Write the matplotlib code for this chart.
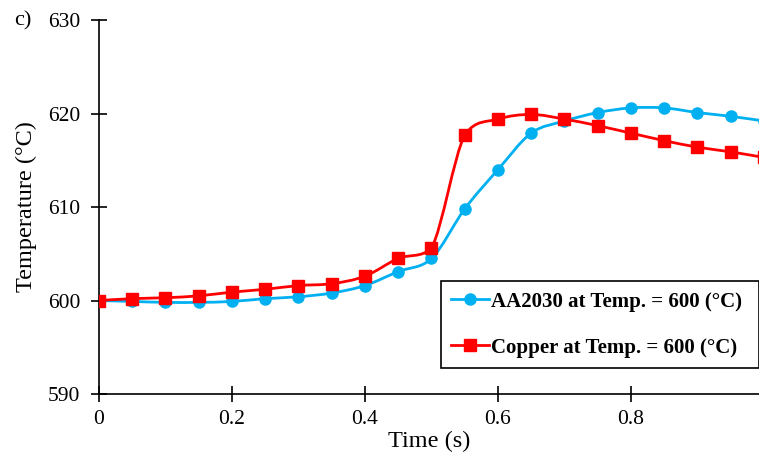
import numpy as np
import matplotlib.pyplot as plt
from matplotlib.path import Path
from matplotlib.patches import PathPatch
from matplotlib.lines import Line2D

plt.rcParams['font.family'] = ['Liberation Serif', 'DejaVu Serif']

# time (s)
t = [0.0, 0.05, 0.1, 0.15, 0.2, 0.25, 0.3, 0.35, 0.4, 0.45, 0.5,
     0.55, 0.6, 0.65, 0.7, 0.75, 0.8, 0.85, 0.9, 0.95, 1.0]
# AA2030 at 600 C
aa2030 = [600.0, 599.9, 599.8, 599.8, 599.9, 600.2, 600.4, 600.8, 601.6, 603.1, 604.5,
          609.8, 614.0, 617.9, 619.2, 620.1, 620.6, 620.6, 620.1, 619.7, 619.2]
# Copper at 600 C
copper = [600.0, 600.2, 600.3, 600.5, 600.9, 601.2, 601.6, 601.8, 602.6, 604.5, 605.6,
          617.7, 619.4, 619.9, 619.4, 618.7, 617.9, 617.1, 616.4, 615.9, 615.3]

labels = ["AA2030 at Temp. = 600 (°C)", "Copper at Temp. = 600 (°C)"]
colors = ["#00B0F0", "#FF0000"]
markers = ["o", "s"]
msizes = [8, 8.5]


def smooth_path(x, y):
    # smoothed line like Excel: Catmull-Rom -> cubic Bezier, controls kept in segment range
    p = np.column_stack([x, y]).astype(float)
    pts = np.vstack([p[0], p, p[-1]])
    verts = [p[0]]
    codes = [Path.MOVETO]
    for i in range(1, len(pts) - 2):
        p0, p1, p2, p3 = pts[i - 1], pts[i], pts[i + 1], pts[i + 2]
        c1 = p1 + (p2 - p0) / 6
        c2 = p2 - (p3 - p1) / 6
        lo, hi = min(p1[1], p2[1]), max(p1[1], p2[1])
        if hi - lo > 1.0:
            c1[1] = np.clip(c1[1], lo, hi)
            c2[1] = np.clip(c2[1], lo, hi)
        verts += [c1, c2, p2]
        codes += [Path.CURVE4] * 3
    return Path(verts, codes)


fig = plt.figure(figsize=(7.59, 4.61), dpi=100)
ax = fig.add_axes([0.1304, 0.1453, 0.8696, 0.8113])

handles = []
for ys, lab, c, m, ms in zip([aa2030, copper], labels, colors, markers, msizes):
    ax.add_patch(PathPatch(smooth_path(t, ys), fill=False, edgecolor=c, lw=2.0, zorder=2))
    ax.plot(t, ys, linestyle='none', marker=m, ms=ms, color=c, zorder=3)
    handles.append(Line2D([], [], color=c, lw=2.0, marker=m, ms=ms))

ax.set_xlim(0, 0.9925)
ax.set_ylim(590, 630)
ax.set_yticks([590, 600, 610, 620, 630])
ax.set_xticks([0, 0.2, 0.4, 0.6, 0.8])
ax.set_xticklabels(["0", "0.2", "0.4", "0.6", "0.8"])
ax.spines['top'].set_visible(False)
ax.spines['right'].set_visible(False)
for s in ['left', 'bottom']:
    ax.spines[s].set_linewidth(1.2)
ax.tick_params(direction='inout', length=11, width=1.2, labelsize=15.5)
ax.tick_params(axis='y', pad=8)
ax.tick_params(axis='x', pad=6)

ax.set_xlabel("Time (s)", fontsize=17.5, labelpad=1)
ax.set_ylabel("Temperature (°C)", fontsize=17.5, labelpad=8)
fig.text(0.018, 0.955, "c)", fontsize=16, va='center')

leg = ax.legend(handles, labels, loc='lower left', bbox_to_anchor=(0.518, 0.0695, 0.482, 0.24),
                mode='expand', frameon=True, fancybox=False, framealpha=1,
                edgecolor='black', handlelength=1.8, handletextpad=0.1,
                labelspacing=1.25, borderpad=0.5, borderaxespad=0,
                prop={'weight': 'bold', 'size': 15})
leg.get_frame().set_linewidth(1.2)

fig.savefig("out.png", dpi=100)
plt.close()
